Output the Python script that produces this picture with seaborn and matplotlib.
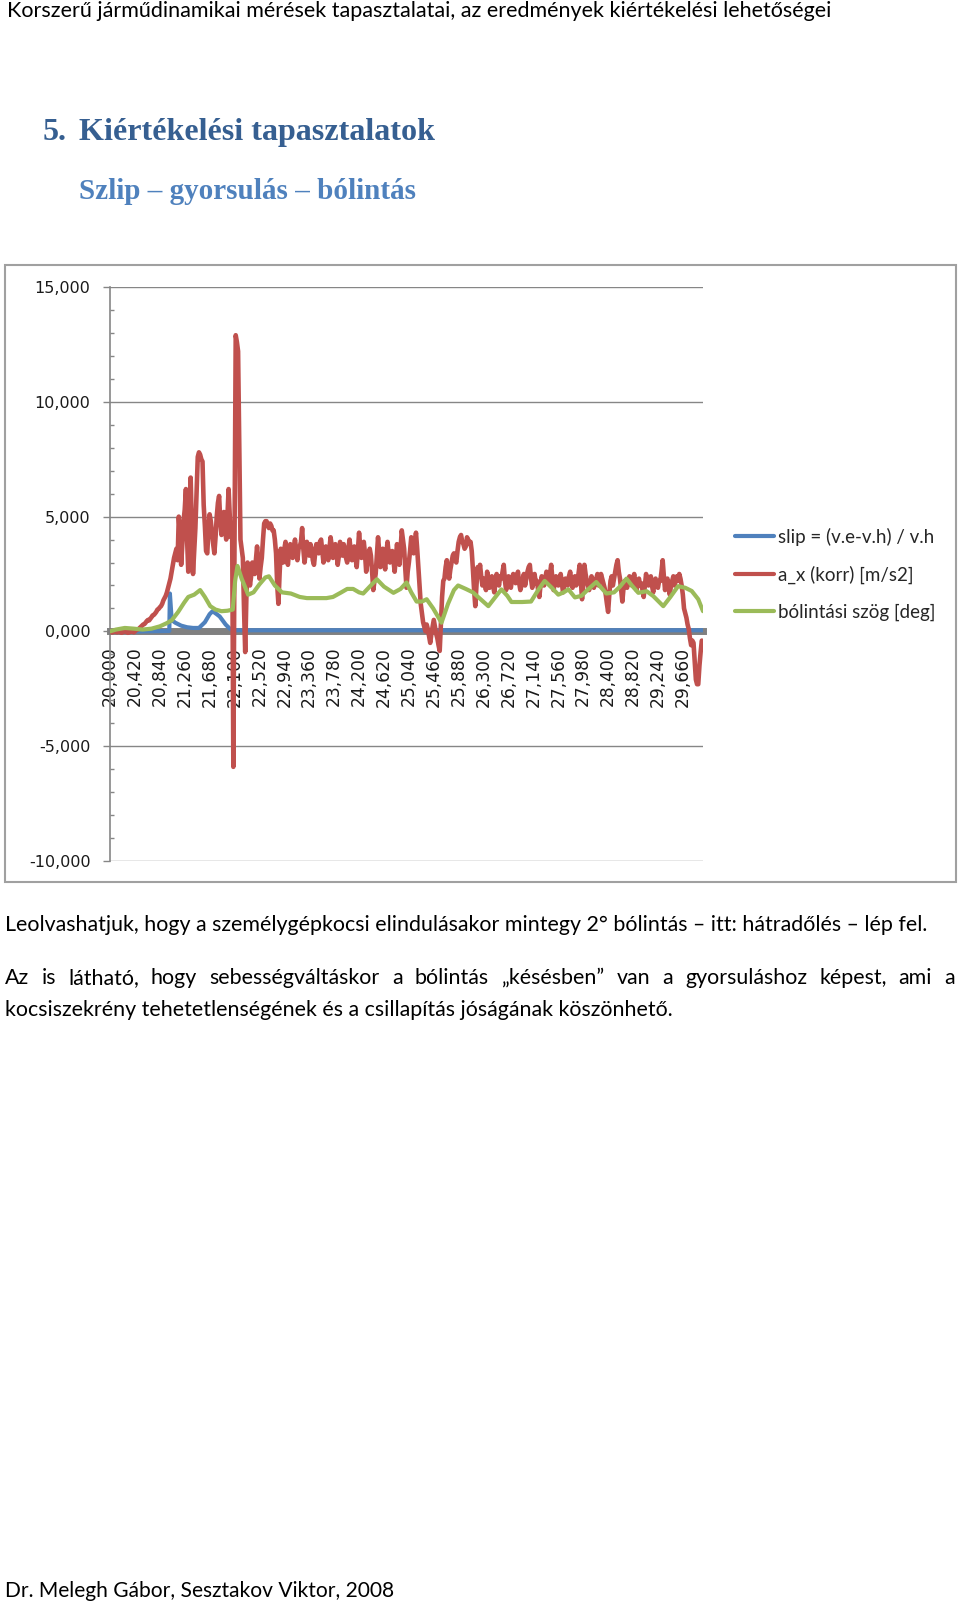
import numpy as np
import matplotlib
matplotlib.use("Agg")
import matplotlib.pyplot as plt
import seaborn as sns
from matplotlib.lines import Line2D
from matplotlib.patches import Rectangle
from matplotlib.ticker import FixedLocator, MultipleLocator

W, H = 960, 1605

HEADER = "Korszerű járműdinamikai mérések tapasztalatai, az eredmények kiértékelési lehetőségei"
TITLE_NUM = "5."
TITLE = "Kiértékelési tapasztalatok"
SUBTITLE = "Szlip – gyorsulás – bólintás"
PARA1 = "Leolvashatjuk, hogy a személygépkocsi elindulásakor mintegy 2° bólintás – itt: hátradőlés – lép fel."
PARA2_LINE1 = "Az is látható, hogy sebességváltáskor a bólintás „késésben” van a gyorsuláshoz képest, ami a"
PARA2_LINE2 = "kocsiszekrény tehetetlenségének és a csillapítás jóságának köszönhető."
FOOTER = "Dr. Melegh Gábor, Sesztakov Viktor, 2008"

SERIES = ["slip = (v.e-v.h) / v.h", "a_x (korr) [m/s2]", "bólintási szög [deg]"]
COLORS = ["#4F81BD", "#C0504D", "#9BBB59"]

x_ticks = [20.00, 20.42, 20.84, 21.26, 21.68, 22.10, 22.52, 22.94, 23.36, 23.78,
           24.20, 24.62, 25.04, 25.46, 25.88, 26.30, 26.72, 27.14, 27.56, 27.98,
           28.40, 28.82, 29.24, 29.66]
x_tick_labels = ["20,000", "20,420", "20,840", "21,260", "21,680", "22,100", "22,520",
                 "22,940", "23,360", "23,780", "24,200", "24,620", "25,040", "25,460",
                 "25,880", "26,300", "26,720", "27,140", "27,560", "27,980", "28,400",
                 "28,820", "29,240", "29,660"]
y_ticks = [-10, -5, 0, 5, 10, 15]
y_tick_labels = ["-10,000", "-5,000", "0,000", "5,000", "10,000", "15,000"]

# slip (blue) - read at its turning points
slip_t = [20.00, 20.50, 21.00, 21.01, 21.04, 21.10, 21.20, 21.30, 21.40, 21.50,
          21.60, 21.68, 21.73, 21.80, 21.85, 21.95, 22.02, 22.10, 22.50, 30.00]
slip_v = [0.0, 0.0, 0.02, 1.65, 0.5, 0.38, 0.25, 0.18, 0.15, 0.15,
          0.4, 0.75, 0.88, 0.75, 0.65, 0.3, 0.12, 0.05, 0.05, 0.05]

# a_x (red) - one reading every 0.02 s from 20.00 to 30.00, 20 per row
ax_v = [
    0.02, -0.03, -0.05, 0.01, 0.03, -0.02, -0.04, 0.0, 0.0, -0.05, -0.06, -0.02, 0.04, 0.0, -0.03, -0.06, -0.05, -0.01, 0.02, 0.0,  # 20.00
    -0.04, 0.0, 0.05, 0.08, 0.1, 0.15, 0.2, 0.25, 0.3, 0.32, 0.38, 0.45, 0.5, 0.48, 0.55, 0.62, 0.7, 0.72, 0.78, 0.85,  # 20.40
    0.95, 0.98, 1.05, 1.1, 1.2, 1.35, 1.45, 1.55, 1.7, 1.9, 2.1, 2.3, 2.6, 2.9, 3.2, 3.4, 3.6, 3.1, 5.0, 4.2,  # 20.80
    2.9, 3.8, 4.8, 5.3, 6.2, 4.0, 2.6, 4.4, 6.7, 4.6, 2.5, 3.5, 4.5, 6.0, 7.6, 7.8, 7.7, 7.5, 7.4, 5.5,  # 21.20
    4.6, 3.5, 3.4, 4.4, 5.1, 4.8, 4.3, 3.8, 3.4, 4.1, 5.0, 5.6, 5.9, 4.8, 4.2, 4.6, 5.2, 4.5, 4.0, 5.0,  # 21.60
    6.2, 5.0, 4.1, 4.5, -5.9, 4.0, 12.9, 12.6, 12.2, 8.0, 4.0, 3.6, 3.2, 1.0, -0.9, 1.5, 3.0, 2.6, 2.0, 2.4,  # 22.00
    3.0, 2.7, 2.5, 3.1, 3.7, 3.0, 2.3, 2.8, 3.2, 4.0, 4.7, 4.8, 4.8, 4.6, 4.5, 4.7, 4.6, 4.4, 4.4, 4.0,  # 22.40
    3.4, 2.0, 1.2, 2.5, 3.6, 3.2, 3.0, 3.6, 3.9, 3.3, 2.9, 3.5, 3.8, 3.4, 3.2, 3.7, 4.0, 3.5, 3.1, 3.6,  # 22.80
    3.7, 3.9, 4.5, 3.6, 3.0, 3.4, 3.9, 3.5, 3.3, 3.8, 3.6, 3.1, 2.9, 3.4, 3.8, 3.6, 3.4, 3.9, 4.0, 3.5,  # 23.20
    3.0, 3.5, 3.7, 3.3, 3.1, 3.6, 4.1, 3.7, 3.2, 3.5, 3.8, 3.4, 2.9, 3.3, 3.9, 3.6, 3.3, 3.8, 3.6, 3.2,  # 23.60
    3.0, 3.6, 4.0, 3.5, 3.1, 3.4, 3.7, 3.2, 2.8, 3.5, 4.3, 3.7, 3.2, 3.6, 3.9, 3.4, 2.6, 3.0, 3.4, 3.6,  # 24.00
    3.3, 2.6, 1.8, 2.2, 2.5, 3.3, 4.1, 3.5, 2.8, 3.2, 3.6, 3.1, 2.7, 3.4, 3.9, 3.4, 3.0, 3.3, 3.5, 3.1,  # 24.40
    2.6, 3.2, 3.8, 3.3, 2.9, 3.6, 4.4, 4.0, 3.6, 2.7, 1.9, 2.6, 3.0, 3.5, 4.1, 3.7, 3.4, 3.9, 4.3, 3.6,  # 24.80
    2.8, 2.0, 1.2, 0.8, 0.4, 0.2, 0.0, 0.3, 0.1, -0.2, -0.5, -0.1, 0.2, 0.5, 0.2, -0.1, -0.3, -0.6, -0.85, 0.3,  # 25.20
    1.5, 2.2, 2.3, 2.8, 3.1, 2.6, 2.3, 2.7, 3.0, 3.3, 3.4, 3.1, 3.0, 3.5, 3.9, 4.1, 4.2, 3.9, 3.8, 3.6,  # 25.60
    3.7, 4.1, 4.0, 3.8, 3.9, 3.5, 2.7, 1.8, 1.1, 2.0, 2.8, 2.5, 2.9, 2.4, 2.0, 2.3, 2.1, 1.8, 2.6, 2.2,  # 26.00
    1.9, 2.2, 2.4, 2.0, 1.7, 2.1, 2.5, 2.2, 2.0, 2.4, 2.3, 2.6, 2.9, 2.2, 1.8, 2.1, 2.4, 2.0, 1.9, 2.3,  # 26.40
    2.5, 2.2, 2.1, 2.4, 2.6, 2.1, 1.8, 2.0, 2.3, 2.5, 2.0, 2.3, 2.6, 2.8, 2.9, 2.3, 1.9, 2.2, 2.5, 2.1,  # 26.80
    2.2, 1.8, 1.5, 2.0, 2.4, 2.2, 2.0, 2.3, 2.6, 2.3, 2.1, 2.5, 2.9, 2.3, 1.8, 2.1, 2.4, 2.2, 2.0, 2.3,  # 27.20
    2.5, 2.1, 1.7, 2.0, 2.3, 2.1, 2.0, 2.4, 2.6, 2.2, 1.9, 2.2, 2.4, 2.0, 2.1, 2.5, 2.9, 2.2, 1.4, 2.0,  # 27.60
    2.9, 2.5, 2.2, 2.0, 1.8, 2.1, 2.4, 2.2, 1.9, 2.1, 2.3, 2.5, 2.0, 2.2, 2.5, 2.3, 2.1, 1.9, 1.6, 1.2,  # 28.00
    0.85, 1.6, 2.2, 2.4, 2.0, 2.3, 2.6, 2.9, 3.1, 2.6, 2.3, 1.8, 1.3, 1.9, 2.2, 2.0, 1.9, 2.2, 2.4, 2.1,  # 28.40
    2.0, 2.3, 2.5, 2.1, 1.8, 2.2, 2.3, 2.0, 2.1, 1.8, 1.5, 2.0, 2.5, 2.2, 2.0, 2.3, 2.4, 2.0, 1.7, 2.1,  # 28.80
    2.3, 2.0, 1.9, 2.2, 2.2, 2.6, 3.1, 2.4, 1.8, 2.1, 2.3, 1.9, 1.6, 2.0, 2.2, 2.4, 2.0, 2.2, 2.4, 2.2,  # 29.20
    2.5, 2.3, 2.0, 1.6, 1.0, 0.8, 0.6, 0.3, 0.1, -0.3, -0.6, -0.4, -0.5, -1.3, -2.1, -2.3, -2.3, -1.5, -0.9, -0.4,  # 29.60
    -0.5,  # 30.00
]
ax_t = np.round(20.0 + 0.02 * np.arange(len(ax_v)), 2)

# pitch angle (green) - read at its turning points
pitch_t = [20.00, 20.10, 20.25, 20.40, 20.55, 20.70, 20.84, 20.95, 21.04, 21.15,
           21.25, 21.32, 21.42, 21.52, 21.60, 21.69, 21.78, 21.88, 21.98, 22.07,
           22.11, 22.15, 22.22, 22.33, 22.42, 22.52, 22.62, 22.68, 22.78, 22.90,
           23.05, 23.20, 23.32, 23.50, 23.65, 23.76, 23.90, 24.00, 24.10, 24.20,
           24.27, 24.38, 24.50, 24.62, 24.78, 24.90, 25.00, 25.08, 25.17, 25.26,
           25.34, 25.45, 25.59, 25.70, 25.80, 25.87, 26.00, 26.12, 26.25, 26.38,
           26.50, 26.60, 26.70, 26.77, 26.95, 27.10, 27.22, 27.33, 27.45, 27.56,
           27.65, 27.73, 27.84, 27.95, 28.05, 28.20, 28.37, 28.50, 28.60, 28.71,
           28.80, 28.91, 29.05, 29.16, 29.33, 29.45, 29.58, 29.70, 29.81, 29.92,
           30.00]
pitch_v = [0.0, 0.08, 0.15, 0.12, 0.08, 0.12, 0.22, 0.35, 0.48, 0.85,
           1.25, 1.5, 1.6, 1.8, 1.5, 1.1, 0.95, 0.88, 0.9, 0.95,
           2.2, 2.85, 2.3, 1.6, 1.7, 2.05, 2.35, 2.4, 2.0, 1.7,
           1.65, 1.5, 1.45, 1.45, 1.45, 1.5, 1.7, 1.85, 1.85, 1.7,
           1.65, 1.95, 2.27, 1.95, 1.68, 1.85, 2.13, 1.7, 1.3, 1.3,
           1.4, 1.0, 0.38, 1.2, 1.8, 2.0, 1.85, 1.7, 1.4, 1.1,
           1.5, 1.83, 1.55, 1.28, 1.28, 1.3, 1.8, 2.2, 1.9, 1.6,
           1.7, 1.83, 1.48, 1.55, 1.8, 2.15, 1.65, 1.7, 1.95, 2.3,
           2.0, 1.68, 1.75, 1.54, 1.1, 1.5, 1.97, 1.9, 1.76, 1.4,
           0.88]

sns.set_theme(style="white")
plt.rcParams["font.family"] = ["DejaVu Sans"]
SANS = ["Lato", "DejaVu Sans"]
SERIF = ["Liberation Serif", "DejaVu Serif"]

fig = plt.figure(figsize=(W / 100, H / 100), dpi=100)
renderer = fig.canvas.get_renderer()

# chart
ax = fig.add_axes([110 / W, 1 - 861 / H, (703 - 110) / W, (861 - 287) / H])
sns.lineplot(x=slip_t, y=slip_v, ax=ax, color=COLORS[0], linewidth=3,
             estimator=None, sort=False, zorder=3)
sns.lineplot(x=ax_t, y=ax_v, ax=ax, color=COLORS[1], linewidth=3.3,
             estimator=None, sort=False, zorder=3)
sns.lineplot(x=pitch_t, y=pitch_v, ax=ax, color=COLORS[2], linewidth=3,
             estimator=None, sort=False, zorder=3)

for side in ["top", "right"]:
    ax.spines[side].set_visible(False)
ax.spines["left"].set_color("#868686")
ax.spines["left"].set_linewidth(1.2)
# category axis crosses at zero, drawn as a thick grey bar
ax.spines["bottom"].set_position(("data", 0))
ax.spines["bottom"].set_color("#808080")
ax.spines["bottom"].set_linewidth(5)

ax.set_xlim(20.0, 30.0)
ax.set_ylim(-10, 15)
ax.set_xlabel("")
ax.set_ylabel("")
ax.xaxis.set_major_locator(FixedLocator(x_ticks))
ax.set_xticklabels(x_tick_labels)
ax.yaxis.set_major_locator(FixedLocator(y_ticks))
ax.set_yticklabels(y_tick_labels)
ax.yaxis.set_minor_locator(MultipleLocator(1))
ax.tick_params(axis="x", length=0, pad=11, labelsize=12.3, labelrotation=90,
               colors="#1a1a1a")
ax.tick_params(axis="y", which="major", direction="out", length=5, width=1,
               color="#868686", pad=9, labelsize=11.5, labelcolor="#1a1a1a", left=True)
ax.tick_params(axis="y", which="minor", direction="in", length=3, width=1,
               color="#868686", left=True)
ax.yaxis.grid(True, color="#868686", linewidth=1)
ax.set_axisbelow(True)

handles = [Line2D([], [], color=c, linewidth=3) for c in COLORS]
fig.legend(handles, SERIES, loc="center left", bbox_to_anchor=(735 / W, 1 - 574 / H),
           frameon=False, handlelength=2.1, handletextpad=0.2, labelspacing=1.05,
           borderpad=0, borderaxespad=0, labelcolor="#262626",
           prop={"family": SANS, "size": 13.5})

fig.add_artist(Rectangle((5 / W, 1 - 882 / H), 951 / W, 617 / H, transform=fig.transFigure,
                         fill=False, edgecolor="#a0a0a0", linewidth=1.5))


# page text
def fit_text(x0, x1, y, s, **kw):
    t = fig.text(x0 / W, 1 - y / H, s, ha="left", va="baseline", **kw)
    w = t.get_window_extent(renderer).width
    t.set_fontsize(t.get_fontsize() * (x1 - x0) / w)
    return t


fit_text(7, 825, 16.7, HEADER, family=SANS, color="black")
title = fit_text(79, 432, 140, TITLE, family=SERIF, weight="bold", color="#365F91")
fig.text(43 / W, 1 - 140 / H, TITLE_NUM, ha="left", va="baseline", family=SERIF,
         weight="bold", color="#365F91", fontsize=title.get_fontsize())
fit_text(79, 413, 199.3, SUBTITLE, family=SERIF, weight="bold", color="#4F81BD")

body = fit_text(5, 921, 931, PARA1, family=SANS, color="black")
body_size = body.get_fontsize()

words = PARA2_LINE1.split(" ")
arts = [fig.text(0, 1 - 984 / H, w, ha="left", va="baseline", family=SANS,
                 color="black", fontsize=body_size) for w in words]
widths = [a.get_window_extent(renderer).width for a in arts]
gap = (955 - 5 - sum(widths)) / (len(words) - 1)
x = 5
for a, w in zip(arts, widths):
    a.set_x(x / W)
    x += w + gap

fig.text(5 / W, 1 - 1016 / H, PARA2_LINE2, ha="left", va="baseline", family=SANS,
         color="black", fontsize=body_size)
fit_text(5, 394, 1597, FOOTER, family=SANS, color="black")

fig.savefig("out.png", dpi=100)
